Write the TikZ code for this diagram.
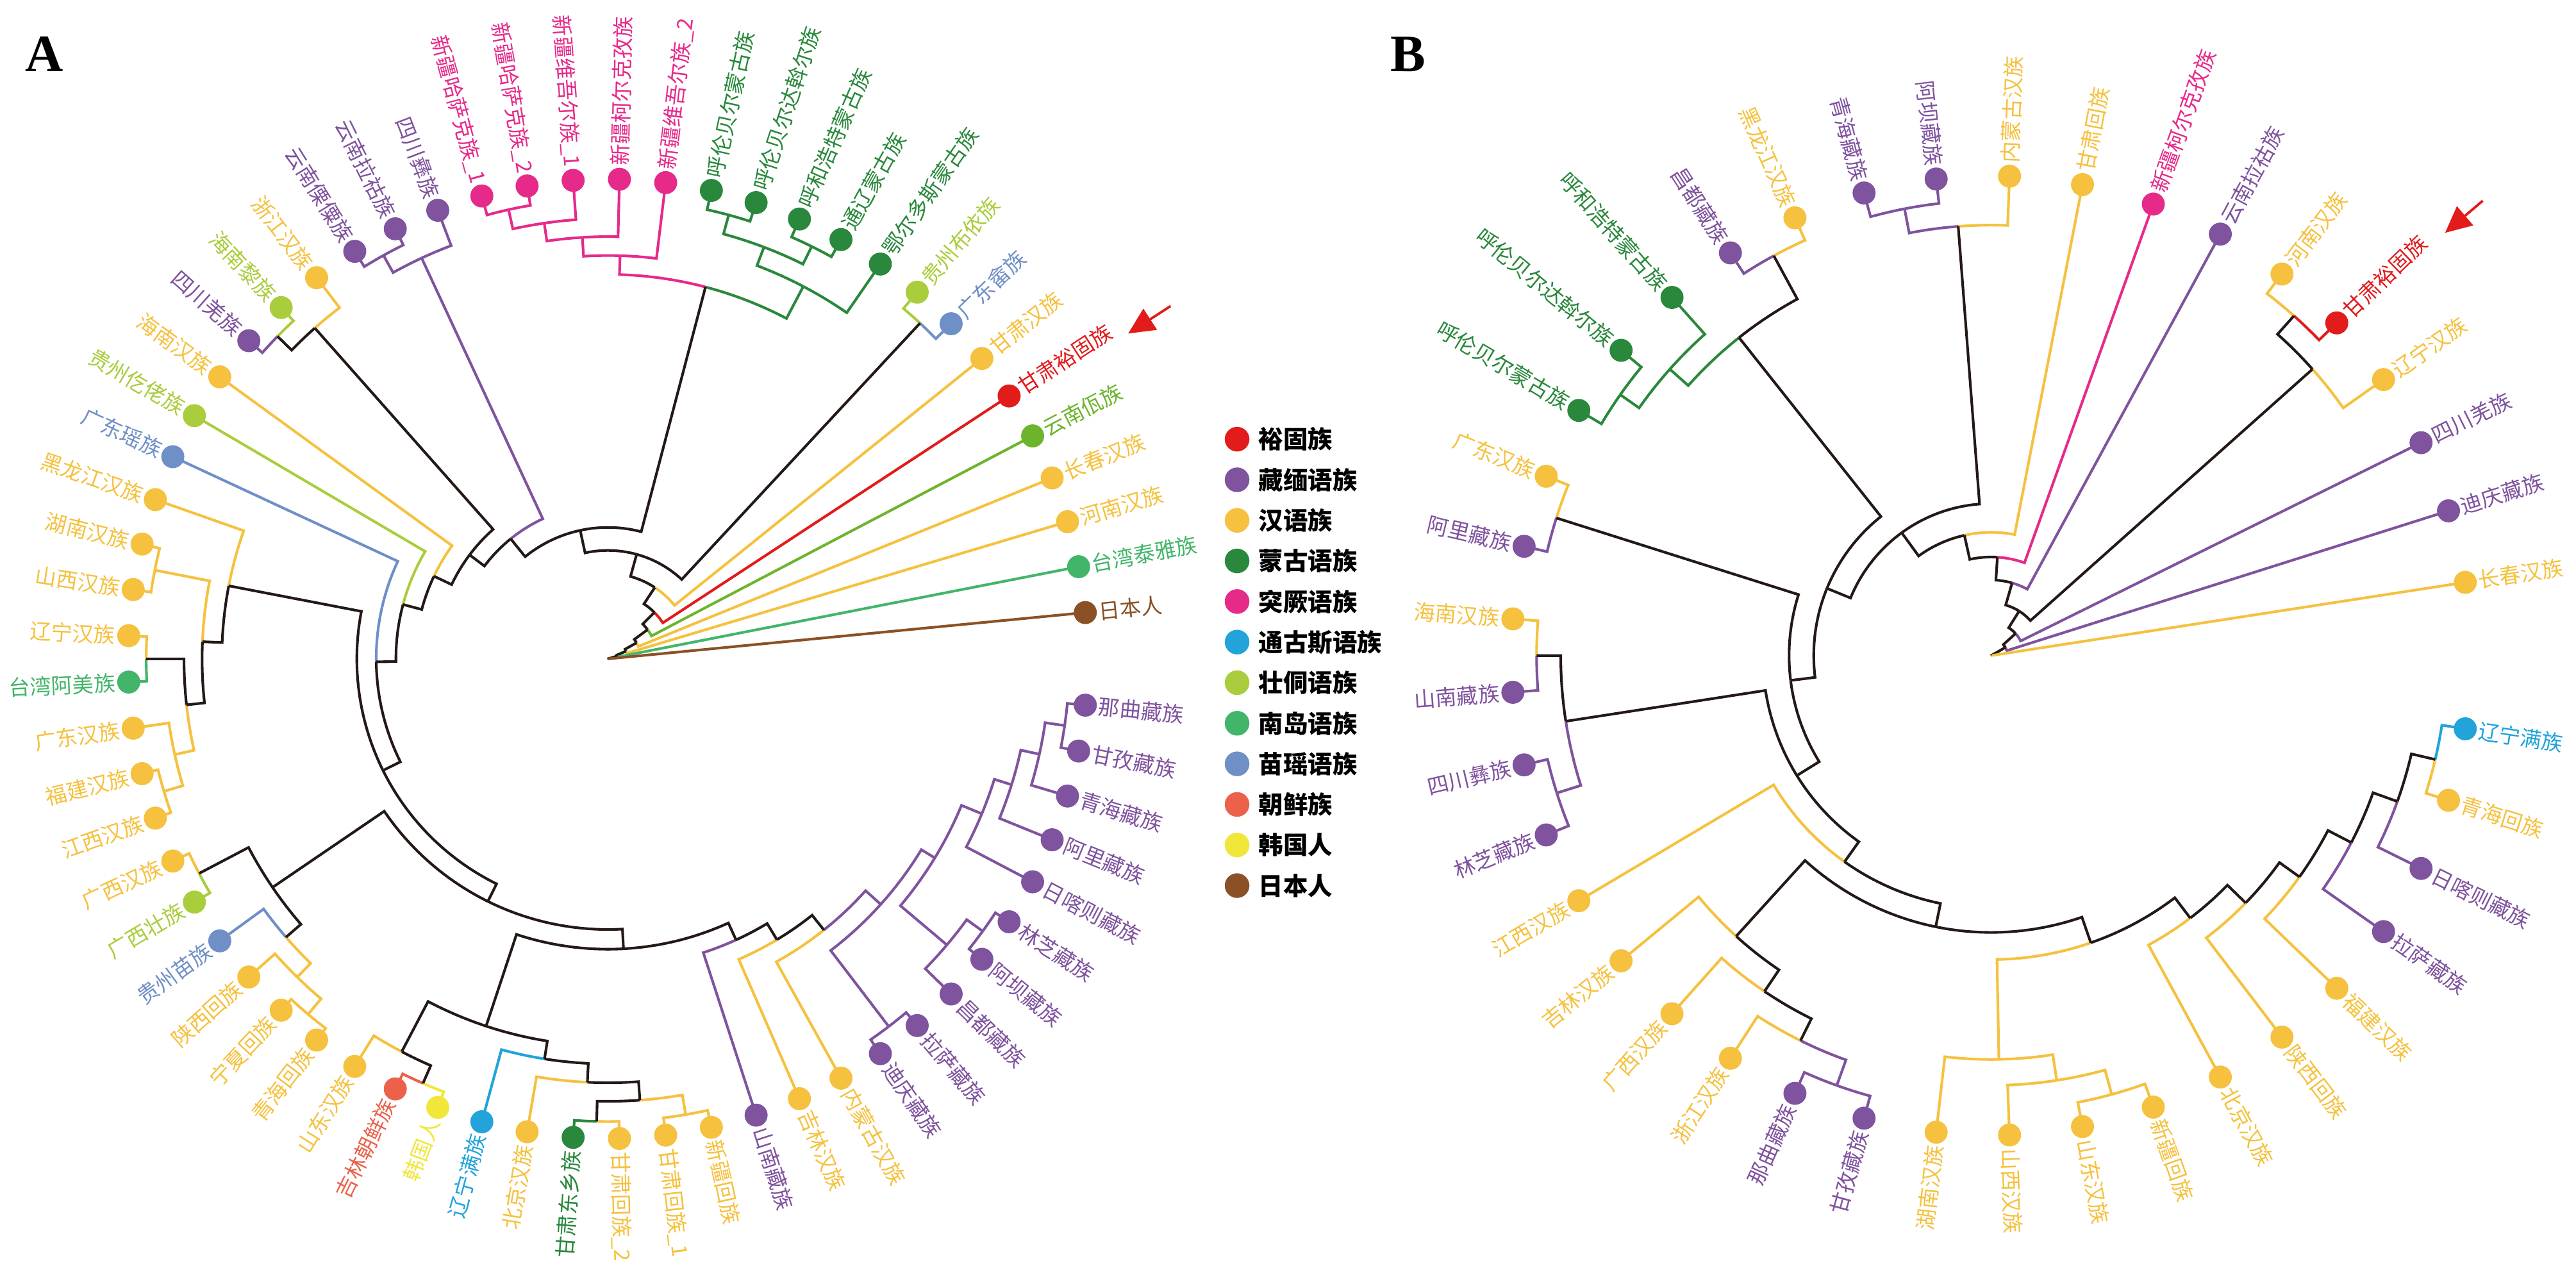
\documentclass[tikz,border=0pt]{standalone}
\usepackage{fontspec}
\setmainfont{Liberation Serif}
\newfontfamily\cjk{Noto Sans CJK SC}
\usetikzlibrary{calc,arrows.meta}
\definecolor{cRed}{HTML}{E21B1B}
\definecolor{cTB}{HTML}{7F539E}
\definecolor{cHan}{HTML}{F5C13E}
\definecolor{cMon}{HTML}{2A883C}
\definecolor{cTur}{HTML}{E62A8A}
\definecolor{cTun}{HTML}{22A3DA}
\definecolor{cZD}{HTML}{A9CD3D}
\definecolor{cAN}{HTML}{42B56A}
\definecolor{cMY}{HTML}{6F8FC7}
\definecolor{cCX}{HTML}{EB614A}
\definecolor{cKR}{HTML}{F0E73A}
\definecolor{cJP}{HTML}{8A5126}
\definecolor{cWa}{HTML}{6DB42D}
\definecolor{cBk}{HTML}{231916}
\newcommand\sA{5.53846}
\newcommand\sB{8.78049}
\newcommand\RL{292}
\newcommand\bA[5]{\draw[br,#1] ($(cA)+({(#2)*\sA}:#3)$) arc[start angle={(#2)*\sA},end angle={(#4)*\sA},radius=#3] -- ($(cA)+({(#4)*\sA}:#5)$);}
\newcommand\lA[4]{\draw[br,#1] ($(cA)+({(#2)*\sA}:#3)$) arc[start angle={(#2)*\sA},end angle={(#4)*\sA},radius=#3] -- (A#4);}
\newcommand\bB[5]{\draw[br,#1] ($(cB)+({(#2)*\sB}:#3)$) arc[start angle={(#2)*\sB},end angle={(#4)*\sB},radius=#3] -- ($(cB)+({(#4)*\sB}:#5)$);}
\newcommand\lB[4]{\draw[br,#1] ($(cB)+({(#2)*\sB}:#3)$) arc[start angle={(#2)*\sB},end angle={(#4)*\sB},radius=#3] -- (B#4);}
\newcommand\dl[5]{%
 \pgfmathsetmacro\ang{(#3)*#2}%
 \pgfmathtruncatemacro\flip{(\ang>90)*(\ang<270)}%
 \node[dot,fill=#4] (d#1#3) at (#1#3) {};
 \ifnum\flip=1
  \node[lab,text=#4,anchor=east,rotate=\ang-180] (t#1#3) at ($(c#1)+(\ang:300)$) {#5};
 \else
  \node[lab,text=#4,anchor=west,rotate=\ang] (t#1#3) at ($(c#1)+(\ang:300)$) {#5};
 \fi}
\begin{document}
\begin{tikzpicture}[x=1pt,y=1pt,
 br/.style={line width=1.6pt,line join=miter},
 dot/.style={circle,inner sep=0pt,minimum size=14pt,draw=none},
 lab/.style={inner sep=0pt,font=\cjk\fontsize{13}{13}\selectfont},
 legt/.style={inner sep=0pt,font=\cjk\bfseries\fontsize{15}{15}\selectfont,text=black},
 panel/.style={inner sep=0pt,font=\bfseries\fontsize{32}{32}\selectfont}]
\fill[white] (0,0) rectangle (1568,-776);
\useasboundingbox (0,0) rectangle (1568,-776);
\coordinate (cA) at (370,-401);
\coordinate (cB) at (1212,-399);
\foreach \i in {1,...,64}{\coordinate (A\i) at ($(cA)+({\i*\sA}:\RL)$);}
\foreach \i in {1,...,40}{\coordinate (B\i) at ($(cB)+({\i*\sB}:\RL)$);}
% ================= Panel A branches =================
\lA{cTur}{18.5}{280}{18} \lA{cTur}{18.5}{280}{19}
\bA{cTur}{17.75}{268}{18.5}{280} \lA{cTur}{17.75}{268}{17}
\bA{cTur}{16.875}{257}{17.75}{268} \lA{cTur}{16.875}{257}{16}
\bA{cTur}{15.9375}{245.5}{16.875}{257} \lA{cTur}{15.9375}{245.5}{15}
\lA{cMon}{13.5}{280}{13} \lA{cMon}{13.5}{280}{14}
\lA{cMon}{11.5}{280}{11} \lA{cMon}{11.5}{280}{12}
\bA{cMon}{12.5}{268}{13.5}{280} \bA{cMon}{12.5}{268}{11.5}{280}
\bA{cMon}{11.25}{256}{12.5}{268} \lA{cMon}{11.25}{256}{10}
\bA{cMon}{13.59375}{234}{11.25}{256} \bA{cTur}{13.59375}{234}{15.9375}{245.5}
\lA{cMY}{8.5}{279}{8} \lA{cZD}{8.5}{279}{9}
\lA{cTB}{21.5}{281}{21} \lA{cTB}{21.5}{281}{22}
\bA{cTB}{20.75}{269}{21.5}{281} \lA{cTB}{20.75}{269}{20}
\lA{cZD}{24.5}{281}{24} \lA{cTB}{24.5}{281}{25}
\bA{cBk}{23.75}{269}{24.5}{281} \lA{cHan}{23.75}{269}{23}
\lA{cHan}{30.5}{281}{30} \lA{cHan}{30.5}{281}{31}
\lA{cHan}{32.5}{281}{32} \lA{cAN}{32.5}{281}{33}
\lA{cHan}{35.5}{282}{35} \lA{cHan}{35.5}{282}{36}
\bA{cHan}{34.75}{270}{35.5}{282} \lA{cHan}{34.75}{270}{34}
\bA{cBk}{33.625}{258}{32.5}{281} \bA{cHan}{33.625}{258}{34.75}{270}
\bA{cHan}{32.0625}{247}{30.5}{281} \bA{cBk}{32.0625}{247}{33.625}{258}
\lA{cHan}{30.53125}{235}{29} \bA{cBk}{30.53125}{235}{32.0625}{247}
\lA{cHan}{37.5}{281}{37} \lA{cZD}{37.5}{281}{38}
\lA{cHan}{41.5}{283}{41} \lA{cHan}{41.5}{283}{42}
\bA{cHan}{40.75}{270.7}{41.5}{283} \lA{cHan}{40.75}{270.7}{40}
\bA{cHan}{39.875}{259}{40.75}{270.7} \lA{cMY}{39.875}{259}{39}
\bA{cBk}{38.6875}{247}{37.5}{281} \bA{cBk}{38.6875}{247}{39.875}{259}
\lA{cCX}{44.5}{281.8}{44} \lA{cKR}{44.5}{281.8}{45}
\bA{cBk}{43.75}{270}{44.5}{281.8} \lA{cHan}{43.75}{270}{43}
\lA{cMon}{48.5}{281.6}{48} \lA{cHan}{48.5}{281.6}{49}
\lA{cHan}{50.5}{281.4}{50} \lA{cHan}{50.5}{281.4}{51}
\bA{cBk}{49.5}{269.3}{48.5}{281.6} \bA{cHan}{49.5}{269.3}{50.5}{281.4}
\lA{cHan}{48.25}{258}{47} \bA{cBk}{48.25}{258}{49.5}{269.3}
\lA{cTun}{47.125}{246.5}{46} \bA{cBk}{47.125}{246.5}{48.25}{258}
\bA{cBk}{45.4375}{235.5}{43.75}{270} \bA{cBk}{45.4375}{235.5}{47.125}{246.5}
\lA{cTB}{63.5}{281}{63} \lA{cTB}{63.5}{281}{64}
\bA{cTB}{62.75}{269}{63.5}{281} \lA{cTB}{62.75}{269}{62}
\bA{cTB}{61.875}{257.4}{62.75}{269} \lA{cTB}{61.875}{257.4}{61}
\bA{cTB}{60.9375}{246.4}{61.875}{257.4} \lA{cTB}{60.9375}{246.4}{60}
\lA{cTB}{58.5}{282}{58} \lA{cTB}{58.5}{282}{59}
\bA{cTB}{57.75}{270}{58.5}{282} \lA{cTB}{57.75}{270}{57}
\bA{cTB}{59.34375}{233}{60.9375}{246.4} \bA{cTB}{59.34375}{233}{57.75}{270}
\lA{cTB}{55.5}{281.6}{55} \lA{cTB}{55.5}{281.6}{56}
\bA{cTB}{57.421875}{223.4}{55.5}{281.6} \bA{cTB}{57.421875}{223.4}{59.34375}{233}
\bA{cTB}{55.7109}{211}{57.421875}{223.4} \lA{cHan}{55.7109}{211}{54}
\bA{cBk}{54.3555}{199.5}{55.7109}{211} \lA{cHan}{54.3555}{199.5}{53}
\bA{cBk}{53.1777}{188}{54.3555}{199.5} \lA{cTB}{53.1777}{188}{52}
\bA{cBk}{49.3076}{176.7}{53.1777}{188} \bA{cBk}{49.3076}{176.7}{45.4375}{235.5}
\bA{cBk}{43.9976}{164.7}{49.3076}{176.7} \bA{cBk}{43.9976}{164.7}{38.6875}{247}
\bA{cBk}{37.2644}{152.8}{43.9976}{164.7} \bA{cBk}{37.2644}{152.8}{30.53125}{235}
\bA{cBk}{32.6322}{141}{37.2644}{152.8} \lA{cMY}{32.6322}{141}{28}
\bA{cBk}{29.8161}{129}{32.6322}{141} \lA{cZD}{29.8161}{129}{27}
\bA{cBk}{27.9081}{117.2}{29.8161}{129} \lA{cHan}{27.9081}{117.2}{26}
\bA{cBk}{25.8290}{105.3}{27.9081}{117.2} \bA{cBk}{25.8290}{105.3}{23.75}{269}
\bA{cBk}{23.2895}{94}{25.8290}{105.3} \bA{cTB}{23.2895}{94}{20.75}{269}
\bA{cBk}{18.4416}{80}{23.2895}{94} \bA{cBk}{18.4416}{80}{13.59375}{234}
\bA{cBk}{13.4708}{66}{18.4416}{80} \bA{cBk}{13.4708}{66}{8.5}{279}
\bA{cBk}{10.2354}{52}{13.4708}{66} \lA{cHan}{10.2354}{52}{7}
\bA{cBk}{8.1177}{40}{10.2354}{52} \lA{cRed}{8.1177}{40}{6}
\bA{cBk}{6.5589}{30}{8.1177}{40} \lA{cWa}{6.5589}{30}{5}
\bA{cBk}{5.2794}{20}{6.5589}{30} \lA{cHan}{5.2794}{20}{4}
\bA{cBk}{4.1397}{12}{5.2794}{20} \lA{cHan}{4.1397}{12}{3}
\bA{cBk}{3.0699}{6}{4.1397}{12} \lA{cAN}{3.0699}{6}{2}
\bA{cBk}{2.035}{0.5}{3.0699}{6} \lA{cJP}{2.035}{0.5}{1}
% ================= Panel B branches =================
\lB{cRed}{5.5}{277}{5} \lB{cHan}{5.5}{277}{6}
\bB{cBk}{4.75}{262}{5.5}{277} \lB{cHan}{4.75}{262}{4}
\lB{cTB}{11.5}{277}{11} \lB{cTB}{11.5}{277}{12}
\bB{cTB}{10.75}{262}{11.5}{277} \lB{cHan}{10.75}{262}{10}
\lB{cHan}{13.5}{277}{13} \lB{cTB}{13.5}{277}{14}
\lB{cMon}{16.5}{276}{16} \lB{cMon}{16.5}{276}{17}
\bB{cMon}{15.75}{262}{16.5}{276} \lB{cMon}{15.75}{262}{15}
\bB{cBk}{14.625}{247}{13.5}{277} \bB{cMon}{14.625}{247}{15.75}{262}
\lB{cHan}{18.5}{277.6}{18} \lB{cTB}{18.5}{277.6}{19}
\lB{cHan}{20.5}{276.7}{20} \lB{cTB}{20.5}{276.7}{21}
\lB{cTB}{22.5}{277.3}{22} \lB{cTB}{22.5}{277.3}{23}
\bB{cBk}{21.5}{262}{20.5}{276.7} \bB{cTB}{21.5}{262}{22.5}{277.3}
\lB{cTB}{28.5}{278}{28} \lB{cTB}{28.5}{278}{29}
\bB{cTB}{27.75}{261.5}{28.5}{278} \lB{cHan}{27.75}{261.5}{27}
\bB{cBk}{26.875}{246.6}{27.75}{261.5} \lB{cHan}{26.875}{246.6}{26}
\bB{cBk}{25.9375}{230.8}{26.875}{246.6} \lB{cHan}{25.9375}{230.8}{25}
\lB{cHan}{32.5}{277}{32} \lB{cHan}{32.5}{277}{33}
\bB{cHan}{31.75}{261.6}{32.5}{277} \lB{cHan}{31.75}{261.6}{31}
\bB{cHan}{30.875}{245.8}{31.75}{261.6} \lB{cHan}{30.875}{245.8}{30}
\lB{cHan}{39.5}{277.6}{39} \lB{cTun}{39.5}{277.6}{40}
\bB{cBk}{38.75}{262.7}{39.5}{277.6} \lB{cTB}{38.75}{262.7}{38}
\bB{cBk}{37.875}{247}{38.75}{262.7} \lB{cTB}{37.875}{247}{37}
\bB{cBk}{36.9375}{231}{37.875}{247} \lB{cHan}{36.9375}{231}{36}
\bB{cBk}{35.96875}{216}{36.9375}{231} \lB{cHan}{35.96875}{216}{35}
\bB{cBk}{34.984375}{200.5}{35.96875}{216} \lB{cHan}{34.984375}{200.5}{34}
\bB{cHan}{32.9297}{185}{30.875}{245.8} \bB{cBk}{32.9297}{185}{34.984375}{200.5}
\bB{cBk}{29.4336}{168.5}{25.9375}{230.8} \bB{cBk}{29.4336}{168.5}{32.9297}{185}
\lB{cHan}{26.7168}{154}{24} \bB{cBk}{26.7168}{154}{29.4336}{168.5}
\bB{cBk}{24.1084}{139}{21.5}{262} \bB{cBk}{24.1084}{139}{26.7168}{154}
\bB{cBk}{21.3042}{123}{18.5}{277.6} \bB{cBk}{21.3042}{123}{24.1084}{139}
\bB{cBk}{17.9646}{108}{14.625}{247} \bB{cBk}{17.9646}{108}{21.3042}{123}
\bB{cBk}{14.3573}{92.5}{10.75}{262} \bB{cBk}{14.3573}{92.5}{17.9646}{108}
\bB{cBk}{11.6787}{75}{14.3573}{92.5} \lB{cHan}{11.6787}{75}{9}
\bB{cBk}{9.8393}{60}{11.6787}{75} \lB{cTur}{9.8393}{60}{8}
\bB{cBk}{8.4197}{46}{9.8393}{60} \lB{cTB}{8.4197}{46}{7}
\bB{cBk}{6.5848}{32}{4.75}{262} \bB{cBk}{6.5848}{32}{8.4197}{46}
\bB{cBk}{4.7924}{20}{6.5848}{32} \lB{cTB}{4.7924}{20}{3}
\bB{cBk}{3.3962}{10}{4.7924}{20} \lB{cTB}{3.3962}{10}{2}
\bB{cBk}{2.1981}{0.5}{3.3962}{10} \lB{cHan}{2.1981}{0.5}{1}
% ================= Panel A leaves =================
\dl{A}{\sA}{1}{cJP}{日本人}
\dl{A}{\sA}{2}{cAN}{台湾泰雅族}
\dl{A}{\sA}{3}{cHan}{河南汉族}
\dl{A}{\sA}{4}{cHan}{长春汉族}
\dl{A}{\sA}{5}{cWa}{云南佤族}
\dl{A}{\sA}{6}{cRed}{甘肃裕固族}
\dl{A}{\sA}{7}{cHan}{甘肃汉族}
\dl{A}{\sA}{8}{cMY}{广东畲族}
\dl{A}{\sA}{9}{cZD}{贵州布依族}
\dl{A}{\sA}{10}{cMon}{鄂尔多斯蒙古族}
\dl{A}{\sA}{11}{cMon}{通辽蒙古族}
\dl{A}{\sA}{12}{cMon}{呼和浩特蒙古族}
\dl{A}{\sA}{13}{cMon}{呼伦贝尔达斡尔族}
\dl{A}{\sA}{14}{cMon}{呼伦贝尔蒙古族}
\dl{A}{\sA}{15}{cTur}{新疆维吾尔族\_2}
\dl{A}{\sA}{16}{cTur}{新疆柯尔克孜族}
\dl{A}{\sA}{17}{cTur}{新疆维吾尔族\_1}
\dl{A}{\sA}{18}{cTur}{新疆哈萨克族\_2}
\dl{A}{\sA}{19}{cTur}{新疆哈萨克族\_1}
\dl{A}{\sA}{20}{cTB}{四川彝族}
\dl{A}{\sA}{21}{cTB}{云南拉祜族}
\dl{A}{\sA}{22}{cTB}{云南傈僳族}
\dl{A}{\sA}{23}{cHan}{浙江汉族}
\dl{A}{\sA}{24}{cZD}{海南黎族}
\dl{A}{\sA}{25}{cTB}{四川羌族}
\dl{A}{\sA}{26}{cHan}{海南汉族}
\dl{A}{\sA}{27}{cZD}{贵州仡佬族}
\dl{A}{\sA}{28}{cMY}{广东瑶族}
\dl{A}{\sA}{29}{cHan}{黑龙江汉族}
\dl{A}{\sA}{30}{cHan}{湖南汉族}
\dl{A}{\sA}{31}{cHan}{山西汉族}
\dl{A}{\sA}{32}{cHan}{辽宁汉族}
\dl{A}{\sA}{33}{cAN}{台湾阿美族}
\dl{A}{\sA}{34}{cHan}{广东汉族}
\dl{A}{\sA}{35}{cHan}{福建汉族}
\dl{A}{\sA}{36}{cHan}{江西汉族}
\dl{A}{\sA}{37}{cHan}{广西汉族}
\dl{A}{\sA}{38}{cZD}{广西壮族}
\dl{A}{\sA}{39}{cMY}{贵州苗族}
\dl{A}{\sA}{40}{cHan}{陕西回族}
\dl{A}{\sA}{41}{cHan}{宁夏回族}
\dl{A}{\sA}{42}{cHan}{青海回族}
\dl{A}{\sA}{43}{cHan}{山东汉族}
\dl{A}{\sA}{44}{cCX}{吉林朝鲜族}
\dl{A}{\sA}{45}{cKR}{韩国人}
\dl{A}{\sA}{46}{cTun}{辽宁满族}
\dl{A}{\sA}{47}{cHan}{北京汉族}
\dl{A}{\sA}{48}{cMon}{甘肃东乡族}
\dl{A}{\sA}{49}{cHan}{甘肃回族\_2}
\dl{A}{\sA}{50}{cHan}{甘肃回族\_1}
\dl{A}{\sA}{51}{cHan}{新疆回族}
\dl{A}{\sA}{52}{cTB}{山南藏族}
\dl{A}{\sA}{53}{cHan}{吉林汉族}
\dl{A}{\sA}{54}{cHan}{内蒙古汉族}
\dl{A}{\sA}{55}{cTB}{迪庆藏族}
\dl{A}{\sA}{56}{cTB}{拉萨藏族}
\dl{A}{\sA}{57}{cTB}{昌都藏族}
\dl{A}{\sA}{58}{cTB}{阿坝藏族}
\dl{A}{\sA}{59}{cTB}{林芝藏族}
\dl{A}{\sA}{60}{cTB}{日喀则藏族}
\dl{A}{\sA}{61}{cTB}{阿里藏族}
\dl{A}{\sA}{62}{cTB}{青海藏族}
\dl{A}{\sA}{63}{cTB}{甘孜藏族}
\dl{A}{\sA}{64}{cTB}{那曲藏族}
% ================= Panel B leaves =================
\dl{B}{\sB}{1}{cHan}{长春汉族}
\dl{B}{\sB}{2}{cTB}{迪庆藏族}
\dl{B}{\sB}{3}{cTB}{四川羌族}
\dl{B}{\sB}{4}{cHan}{辽宁汉族}
\dl{B}{\sB}{5}{cRed}{甘肃裕固族}
\dl{B}{\sB}{6}{cHan}{河南汉族}
\dl{B}{\sB}{7}{cTB}{云南拉祜族}
\dl{B}{\sB}{8}{cTur}{新疆柯尔克孜族}
\dl{B}{\sB}{9}{cHan}{甘肃回族}
\dl{B}{\sB}{10}{cHan}{内蒙古汉族}
\dl{B}{\sB}{11}{cTB}{阿坝藏族}
\dl{B}{\sB}{12}{cTB}{青海藏族}
\dl{B}{\sB}{13}{cHan}{黑龙江汉族}
\dl{B}{\sB}{14}{cTB}{昌都藏族}
\dl{B}{\sB}{15}{cMon}{呼和浩特蒙古族}
\dl{B}{\sB}{16}{cMon}{呼伦贝尔达斡尔族}
\dl{B}{\sB}{17}{cMon}{呼伦贝尔蒙古族}
\dl{B}{\sB}{18}{cHan}{广东汉族}
\dl{B}{\sB}{19}{cTB}{阿里藏族}
\dl{B}{\sB}{20}{cHan}{海南汉族}
\dl{B}{\sB}{21}{cTB}{山南藏族}
\dl{B}{\sB}{22}{cTB}{四川彝族}
\dl{B}{\sB}{23}{cTB}{林芝藏族}
\dl{B}{\sB}{24}{cHan}{江西汉族}
\dl{B}{\sB}{25}{cHan}{吉林汉族}
\dl{B}{\sB}{26}{cHan}{广西汉族}
\dl{B}{\sB}{27}{cHan}{浙江汉族}
\dl{B}{\sB}{28}{cTB}{那曲藏族}
\dl{B}{\sB}{29}{cTB}{甘孜藏族}
\dl{B}{\sB}{30}{cHan}{湖南汉族}
\dl{B}{\sB}{31}{cHan}{山西汉族}
\dl{B}{\sB}{32}{cHan}{山东汉族}
\dl{B}{\sB}{33}{cHan}{新疆回族}
\dl{B}{\sB}{34}{cHan}{北京汉族}
\dl{B}{\sB}{35}{cHan}{陕西回族}
\dl{B}{\sB}{36}{cHan}{福建汉族}
\dl{B}{\sB}{37}{cTB}{拉萨藏族}
\dl{B}{\sB}{38}{cTB}{日喀则藏族}
\dl{B}{\sB}{39}{cHan}{青海回族}
\dl{B}{\sB}{40}{cTun}{辽宁满族}
% ================= legend =================
\foreach \c/\t [count=\k] in {cRed/裕固族,cTB/藏缅语族,cHan/汉语族,cMon/蒙古语族,cTur/突厥语族,cTun/通古斯语族,cZD/壮侗语族,cAN/南岛语族,cMY/苗瑶语族,cCX/朝鲜族,cKR/韩国人,cJP/日本人}{
 \node[dot,fill=\c,minimum size=15pt] (lg\k) at (753,{-267.3-(\k-1)*24.7}) {};
 \node[legt,anchor=west] (lt\k) at (766,{-267.3-(\k-1)*24.7}) {\t};
}
% ================= panel letters and arrows =================
\node[panel] (pA) at (27,-33) {A};
\node[panel] (pB) at (857,-33) {B};
\coordinate (arA1) at (712.5,-186.3);
\coordinate (arA2) at (686.7,-203);
\coordinate (arB1) at (1511.2,-122.2);
\coordinate (arB2) at (1488.3,-141.7);
\draw[cRed,line width=1.5pt,-{Triangle[length=16pt,width=15pt]}] (arA1) -- (arA2);
\draw[cRed,line width=1.5pt,-{Triangle[length=16pt,width=15pt]}] (arB1) -- (arB2);
\end{tikzpicture}
\end{document}
